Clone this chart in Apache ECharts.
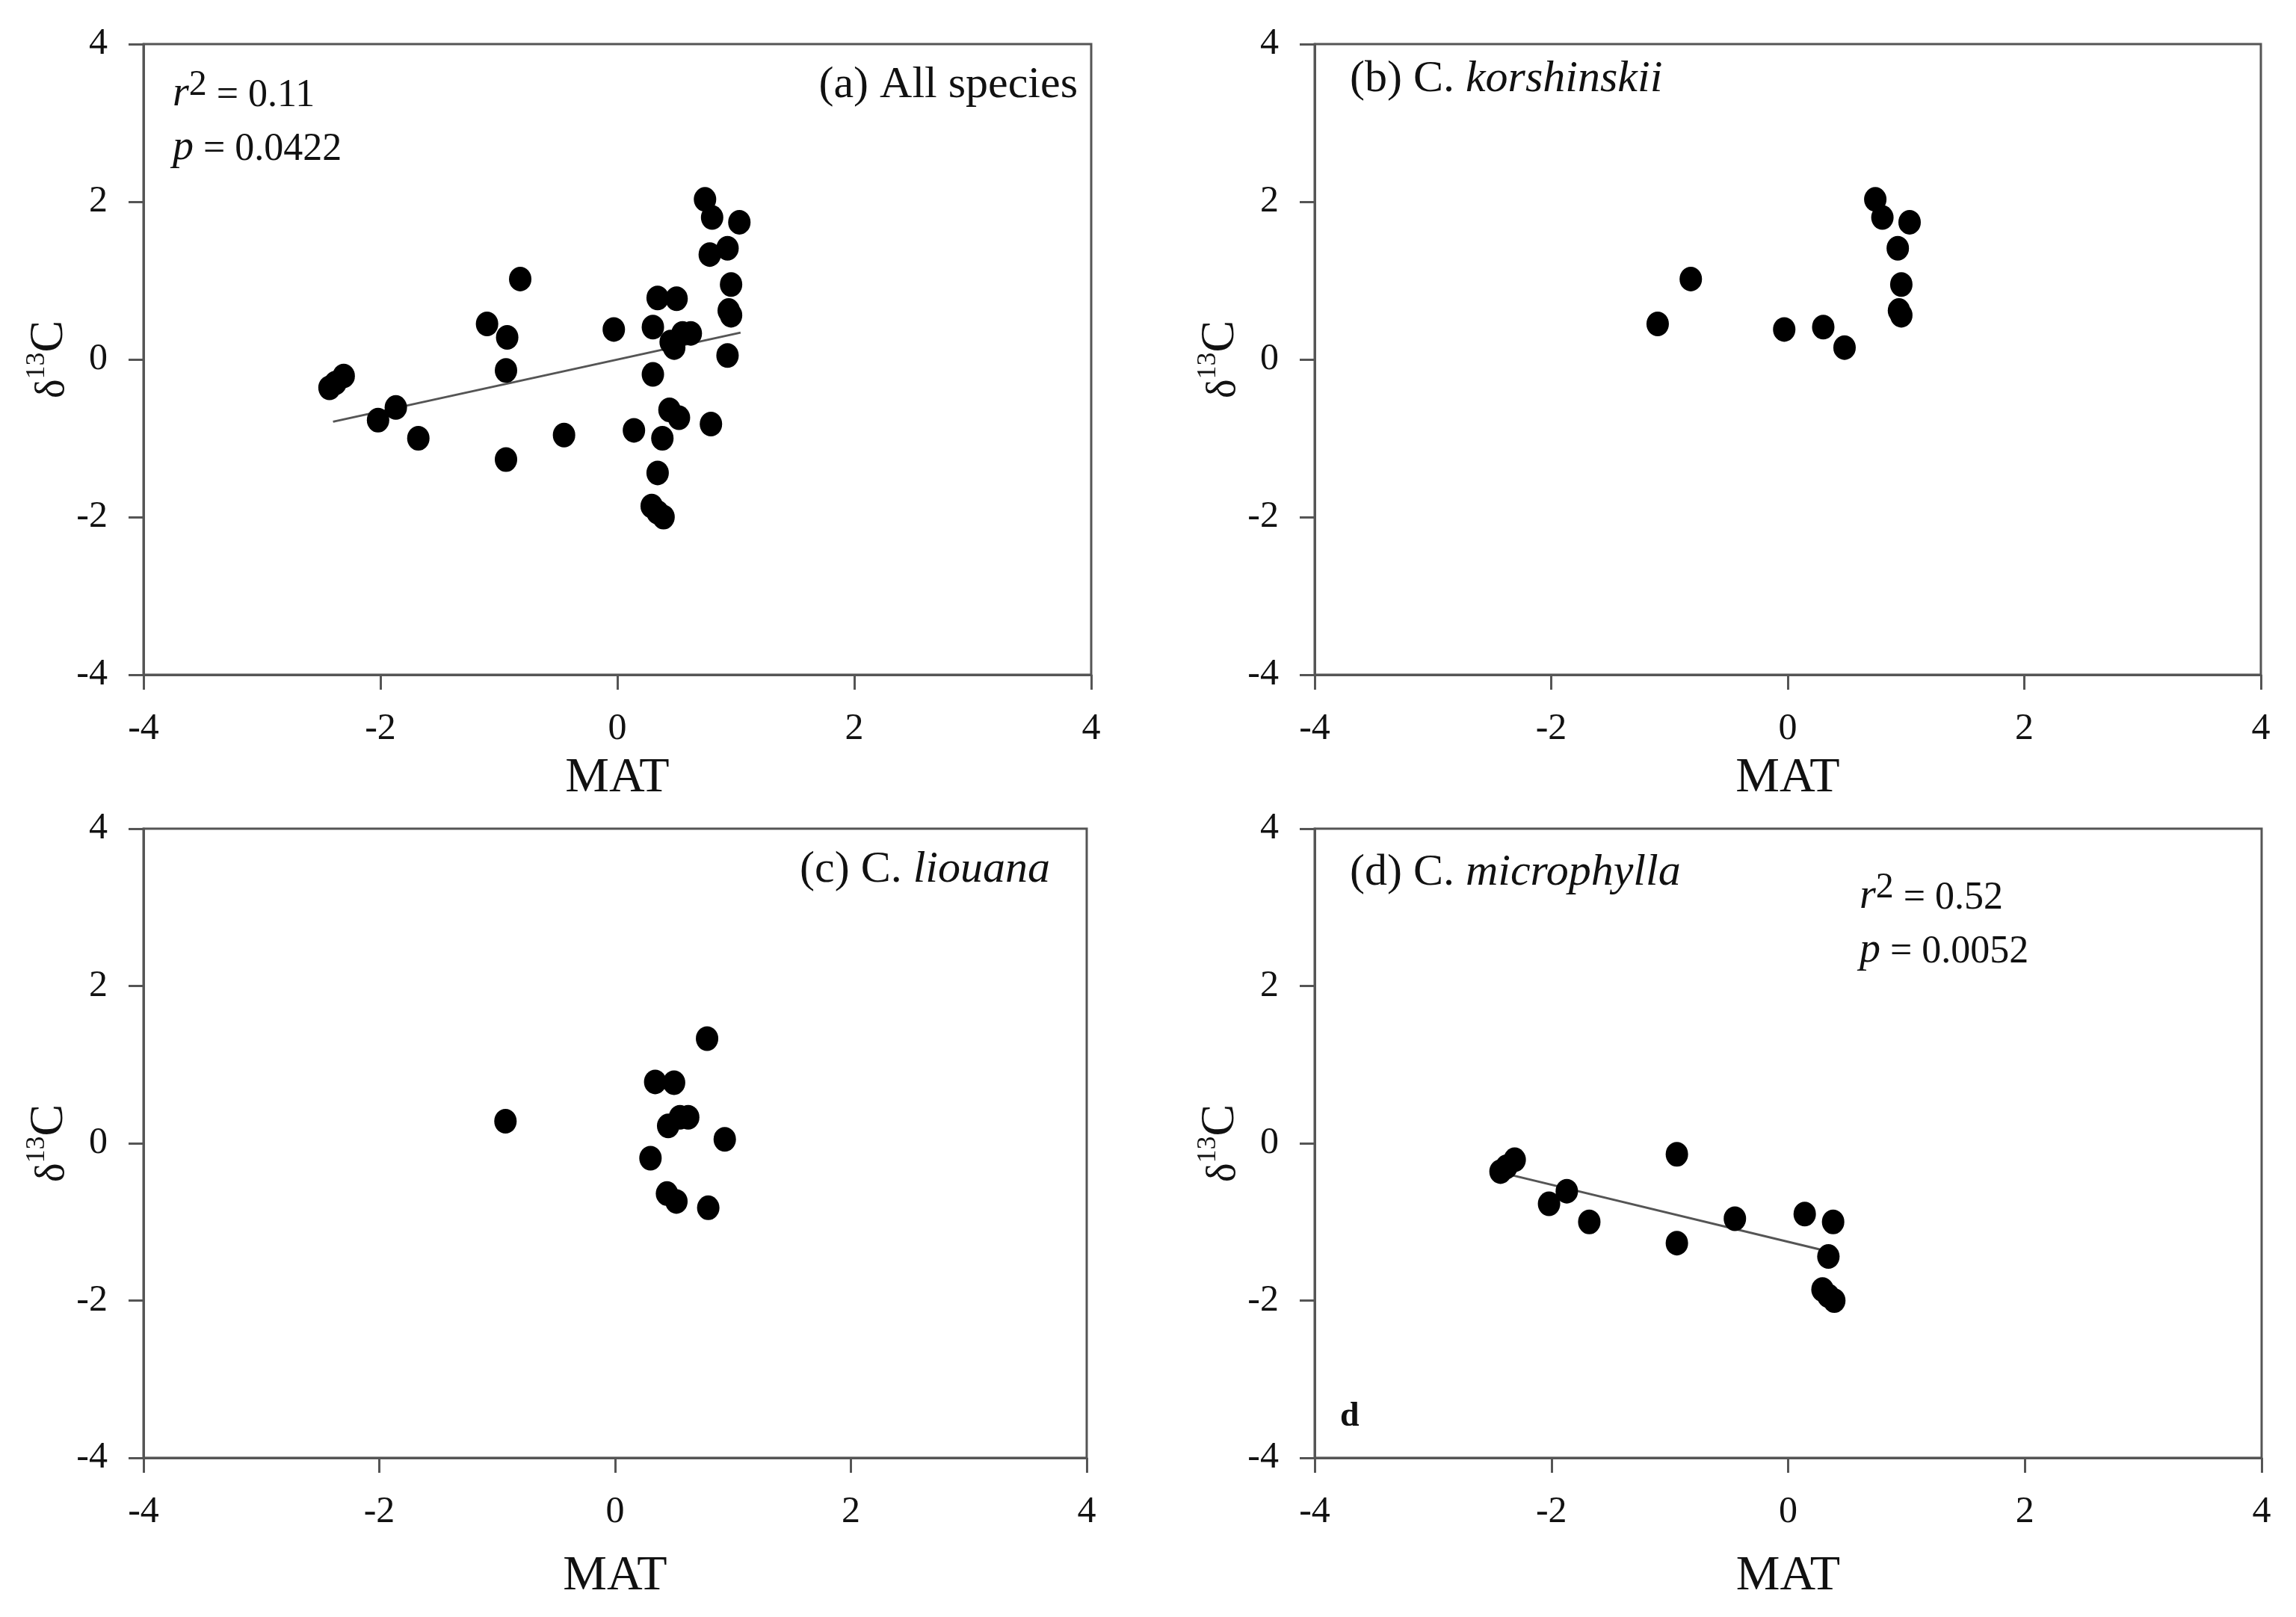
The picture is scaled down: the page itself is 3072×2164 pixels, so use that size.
<!DOCTYPE html>
<html>
<head>
<meta charset="utf-8">
<title>δ13C vs MAT</title>
<script src="https://cdn.jsdelivr.net/npm/echarts@6/dist/echarts.min.js"></script>
<style>
html,body{margin:0;padding:0;background:#fff}
#chart{width:3072px;height:2164px}
</style>
</head>
<body>
<div id="chart"></div>
<script>
// [MAT, δ13C]
var korshinskii = [[-1.10,0.45],[-0.82,1.02],[-0.03,0.38],[0.30,0.41],[0.48,0.15],
    [0.74,2.03],[0.80,1.80],[1.03,1.74],[0.93,1.41],[0.96,0.95],[0.94,0.62],[0.96,0.56]];
var liouana = [[-0.93,0.28],[0.34,0.78],[0.50,0.77],[0.78,1.33],[0.45,0.22],[0.55,0.33],
    [0.62,0.33],[0.93,0.05],[0.30,-0.19],[0.44,-0.64],[0.52,-0.74],[0.79,-0.82]];
var microphylla = [[-2.43,-0.36],[-2.38,-0.30],[-2.31,-0.21],[-2.02,-0.77],[-1.87,-0.61],
    [-1.68,-1.00],[-0.94,-0.14],[-0.94,-1.27],[-0.45,-0.96],[0.14,-0.90],[0.38,-1.00],
    [0.34,-1.44],[0.29,-1.86],[0.39,-2.00],[0.34,-1.94]];
var allSpecies = korshinskii.concat(liouana, microphylla);

// regression lines as drawn
var fitAll = [[-2.40,-0.79],[1.04,0.34]];
var fitMicro = [[-2.35,-0.40],[0.35,-1.38]];

var axisTicks = [-4, -2, 0, 2, 4];

var panels = [allSpecies, korshinskii, liouana, microphylla];
var fits = [fitAll, null, null, fitMicro];

var grids = [
    {left: 192, top: 59, width: 1268, height: 844},
    {left: 1759, top: 59, width: 1266, height: 844},
    {left: 192, top: 1109, width: 1262, height: 842},
    {left: 1759, top: 1109, width: 1267, height: 842}
];
var matGap = [106, 106, 126, 126];

var serif = 'Liberation Serif';
var axisCol = '#555';

var chart = echarts.init(document.getElementById('chart'));

var xAxes = [], yAxes = [], series = [];
grids.forEach(function (g, i) {
    g.show = true;
    g.borderColor = axisCol;
    g.borderWidth = 3;
    g.containLabel = false;
    xAxes.push({
        gridIndex: i, type: 'value',
        min: axisTicks[0], max: axisTicks[axisTicks.length - 1], interval: 2,
        name: 'MAT', nameLocation: 'middle', nameGap: matGap[i],
        nameTextStyle: {fontFamily: serif, fontSize: 66, color: '#111'},
        axisLine: {show: true, onZero: false, lineStyle: {color: axisCol, width: 3}},
        axisTick: {show: true, inside: false, length: 20, lineStyle: {color: axisCol, width: 3}},
        axisLabel: {fontFamily: serif, fontSize: 50, color: '#111', margin: 48},
        splitLine: {show: false}
    });
    yAxes.push({
        gridIndex: i, type: 'value',
        min: axisTicks[0], max: axisTicks[axisTicks.length - 1], interval: 2,
        name: '{d|δ}{s|13}{c|C}', nameLocation: 'middle', nameGap: 94, nameRotate: 90,
        nameTextStyle: {
            fontFamily: serif, color: '#111',
            rich: {
                d: {fontFamily: serif, fontSize: 54, lineHeight: 66, verticalAlign: 'bottom', color: '#111'},
                s: {fontFamily: serif, fontSize: 36, lineHeight: 36, verticalAlign: 'top', color: '#111'},
                c: {fontFamily: serif, fontSize: 64, lineHeight: 66, verticalAlign: 'bottom', color: '#111'}
            }
        },
        axisLine: {show: true, onZero: false, lineStyle: {color: axisCol, width: 3}},
        axisTick: {show: true, inside: false, length: 20, lineStyle: {color: axisCol, width: 3}},
        axisLabel: {fontFamily: serif, fontSize: 50, color: '#111', margin: 48},
        splitLine: {show: false}
    });
    if (fits[i]) {
        series.push({
            type: 'line', xAxisIndex: i, yAxisIndex: i,
            data: fits[i], showSymbol: false, symbol: 'none', silent: true,
            lineStyle: {color: '#555', width: 3}, z: 1
        });
    }
    series.push({
        type: 'scatter', xAxisIndex: i, yAxisIndex: i,
        data: panels[i], symbol: 'circle', symbolSize: [30, 33],
        itemStyle: {color: '#000', opacity: 1}, z: 2
    });
});

var txt = {fontFamily: serif, fontSize: 60, fill: '#111'};
function label(x, y, text, align, rich, extra) {
    var style = Object.assign({}, txt, {text: text, align: align, verticalAlign: 'middle'}, extra || {});
    if (rich) style.rich = rich;
    return {type: 'text', x: x, y: y, style: style, z: 10};
}
var richStat = {
    i: {fontFamily: serif, fontSize: 56, fontStyle: 'italic', fill: '#111', lineHeight: 64, verticalAlign: 'bottom'},
    s: {fontFamily: serif, fontSize: 48, fill: '#111', lineHeight: 44, verticalAlign: 'top'},
    n: {fontFamily: serif, fontSize: 52, fill: '#111', lineHeight: 64, verticalAlign: 'bottom'}
};
var richName = {
    n: {fontFamily: serif, fontSize: 60, fill: '#111'},
    i: {fontFamily: serif, fontSize: 60, fill: '#111', fontStyle: 'italic'}
};

var option = {
    backgroundColor: '#fff',
    animation: false,
    grid: grids,
    xAxis: xAxes,
    yAxis: yAxes,
    series: series,
    graphic: [
        label(1442, 114, '(a) All species', 'right'),
        label(231, 122, '{i|r}{s|2}{n| = 0.11}', 'left', richStat),
        label(231, 194, '{i|p}{n| = 0.0422}', 'left', richStat),
        label(1806, 106, '{n|(b) C. }{i|korshinskii}', 'left', richName),
        label(1405, 1164, '{n|(c) C. }{i|liouana}', 'right', richName),
        label(1806, 1168, '{n|(d) C. }{i|microphylla}', 'left', richName),
        label(2488, 1196, '{i|r}{s|2}{n| = 0.52}', 'left', richStat),
        label(2488, 1268, '{i|p}{n| = 0.0052}', 'left', richStat),
        label(1793, 1896, 'd', 'left', null, {fontWeight: 'bold', fontSize: 46})
    ]
};
chart.setOption(option);
</script>
</body>
</html>
